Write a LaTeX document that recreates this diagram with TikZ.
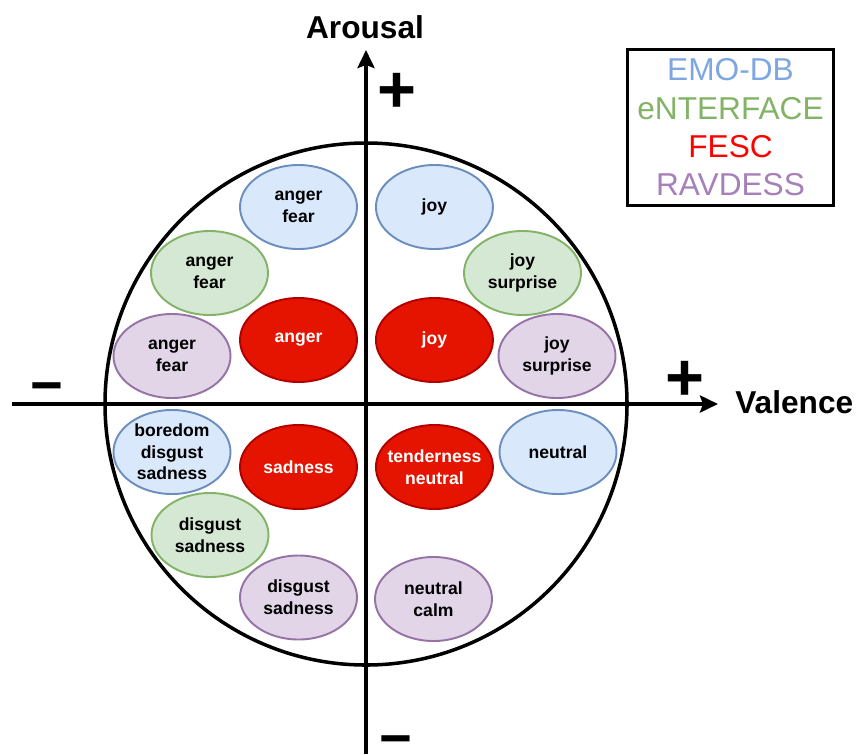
\documentclass[tikz,border=0pt]{standalone}
\usepackage{fontspec}
\setmainfont{Liberation Sans}
\usetikzlibrary{shapes.geometric, arrows.meta, positioning}

\definecolor{emofill}{HTML}{DAE8FC}
\definecolor{emoline}{HTML}{6C8EBF}
\definecolor{emotext}{HTML}{7EA6E0}
\definecolor{entfill}{HTML}{D5E8D4}
\definecolor{entline}{HTML}{82B366}
\definecolor{fescfill}{HTML}{E51400}
\definecolor{fescline}{HTML}{B20000}
\definecolor{ravfill}{HTML}{E1D5E7}
\definecolor{ravline}{HTML}{9673A6}
\definecolor{ravtext}{HTML}{A680B8}

\tikzstyle{mood} = [ellipse, line width=1.1pt, minimum width=23.4mm, minimum
height=16.8mm, inner xsep=-4.5pt, inner ysep=-2pt, align=center, font=\bfseries\fontsize{10}{12.3}\selectfont]
\tikzstyle{emo} = [mood, draw=emoline, fill=emofill]
\tikzstyle{ent} = [mood, draw=entline, fill=entfill]
\tikzstyle{fesc} = [mood, draw=fescline, fill=fescfill, text=white]
\tikzstyle{rav} = [mood, draw=ravline, fill=ravfill]
\tikzstyle{axisline} = [line width=2.2pt, -{Stealth[length=3.6mm, width=3.4mm, inset=0.6mm]}]
\tikzstyle{ring} = [line width=2pt]
\tikzstyle{axislabel} = [font=\bfseries\fontsize{18}{18}\selectfont, inner sep=0pt]
\tikzstyle{sign} = [font=\bfseries\fontsize{38}{38}\selectfont, inner sep=0pt]
\tikzstyle{minus} = [sign, font=\bfseries\fontsize{32}{32}\selectfont]
\tikzstyle{keybox} = [rectangle, draw=black, line width=1.7pt, minimum width=41.2mm,
minimum height=31.2mm, align=center, font=\fontsize{18}{21.8}\selectfont]

\begin{document}
\begin{tikzpicture}[x=0.2mm, y=-0.2mm]
        \useasboundingbox (0,0) rectangle (857,754);

        \coordinate (O) at (366,404);
        \coordinate (L) at (12,404);
        \coordinate (R) at (718,404);
        \coordinate (B) at (366,754);
        \coordinate (T) at (366,50);

        \draw [ring] (O) circle [radius=52.2mm];
        \draw [axisline] (L) -- (R);
        \draw [axisline] (B) -- (T);

        \node (Ar) [axislabel, anchor=base] at (365,38) {Arousal};
        \node (Va) [axislabel, anchor=base west] at (735,413) {Valence};
        \node (Pt) [sign] at (397,93) {+};
        \node (Pr) [sign] at (685,381) {+};
        \node (Ml) [minus] at (47,393.5) {−};
        \node (Mb) [minus] at (396,747) {−};

        % EMO-DB
        \node (Eaf) [emo] at (298.5,207) {anger\\fear};
        \node (Ej) [emo, right=3.4mm of Eaf] {joy};
        \node (Ebds) [emo] at (172,452) {boredom\\disgust\\sadness};
        \node (En) [emo] at (558,452) {neutral};

        % eNTERFACE
        \node (Naf) [ent] at (209.5,273) {anger\\fear};
        \node (Njs) [ent] at (522.5,273) {joy\\surprise};
        \node (Nds) [ent] at (210,535) {disgust\\sadness};

        % FESC
        \node (Fa) [fesc] at (298.5,340) {anger};
        \node (Fj) [fesc, right=3.4mm of Fa] {joy};
        \node (Fs) [fesc] at (298.5,467) {sadness};
        \node (Ftn) [fesc, right=3.4mm of Fs] {tenderness\\neutral};

        % RAVDESS
        \node (Raf) [rav] at (172,356) {anger\\fear};
        \node (Rjs) [rav] at (557,356) {joy\\surprise};
        \node (Rds) [rav] at (298.5,597.5) {disgust\\sadness};
        \node (Rnc) [rav] at (433.5,599) {neutral\\calm};

        \node (K) [keybox] at (730.5,127.5) {\textcolor{emotext}{EMO-DB}\\
                \textcolor{entline}{eNTERFACE}\\ \textcolor{red}{FESC}\\ \textcolor{ravtext}{RAVDESS}};

    \end{tikzpicture}
\end{document}
